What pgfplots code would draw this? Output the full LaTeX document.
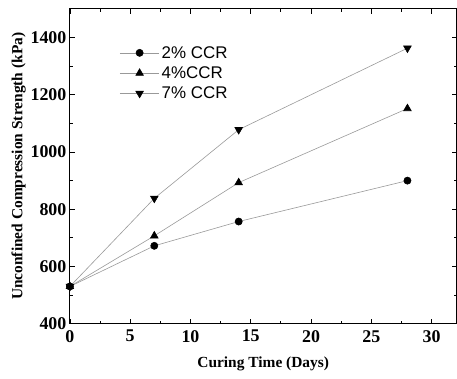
\documentclass[border=0pt]{standalone}
\usepackage{pgfplots}
\pgfplotsset{compat=1.18}
\usepackage{fontspec}
\setmainfont{Liberation Serif}
\newfontfamily\arialfont{Liberation Sans}
\begin{document}
\begin{tikzpicture}
\begin{axis}[
  scale only axis,
  width=387bp, height=315bp,
  xmin=0, xmax=32.07, ymin=400, ymax=1500,
  xtick={0,5,...,30}, ytick={400,600,...,1400},
  minor x tick num=1, minor y tick num=1,
  tick align=inside,
  major tick length=5bp, minor tick length=3bp,
  axis line style={line width=1pt},
  every tick/.style={black, line width=0.8pt},
  tick label style={font=\fontsize{18}{20}\selectfont\bfseries},
  xticklabel={\textbf{\pgfmathprintnumber[assume math mode=true]{\tick}}},
  yticklabel={\textbf{\pgfmathprintnumber[assume math mode=true]{\tick}}},
  xticklabel style={yshift=-3bp},
  /pgf/number format/assume math mode=true,
  /pgf/number format/1000 sep={},
  xlabel={Curing Time (Days)},
  ylabel={Unconfined Compression Strength (kPa)},
  label style={font=\fontsize{15.5}{17}\selectfont\bfseries},
  xlabel style={yshift=-8bp},
  ylabel style={yshift=-2bp},
  legend style={draw=none, fill=none, at={(0.12,0.895)}, anchor=north west,
    font=\arialfont\fontsize{17}{19}\selectfont, row sep=3bp},
  legend cell align=left,
  legend image code/.code={
    \draw[#1, mark repeat=2, mark phase=2] plot coordinates {(0cm,0cm) (0.7cm,0cm) (1.4cm,0cm)};},
]
\addplot[gray!80, line width=0.6pt, mark=*, mark size=3.6pt, mark options={black, fill=black}]
  coordinates {(0,530) (7,672) (14,757) (28,900)};
\addlegendentry{2\% CCR}
\addplot[gray!80, line width=0.6pt, mark=triangle*, mark size=4.4pt, mark options={black, fill=black}]
  coordinates {(0,530) (7,707) (14,893) (28,1152)};
\addlegendentry{4\%CCR}
\addplot[gray!80, line width=0.6pt, mark=triangle*, mark size=4.4pt, mark options={black, fill=black, rotate=180}]
  coordinates {(0,530) (7,838) (14,1078) (28,1363)};
\addlegendentry{7\% CCR}
\end{axis}
\path (current axis.south west) ++(-70bp,-55bp) coordinate (bl);
\path (current axis.north east) ++(0bp,9bp) coordinate (tr);
\end{tikzpicture}
\end{document}
